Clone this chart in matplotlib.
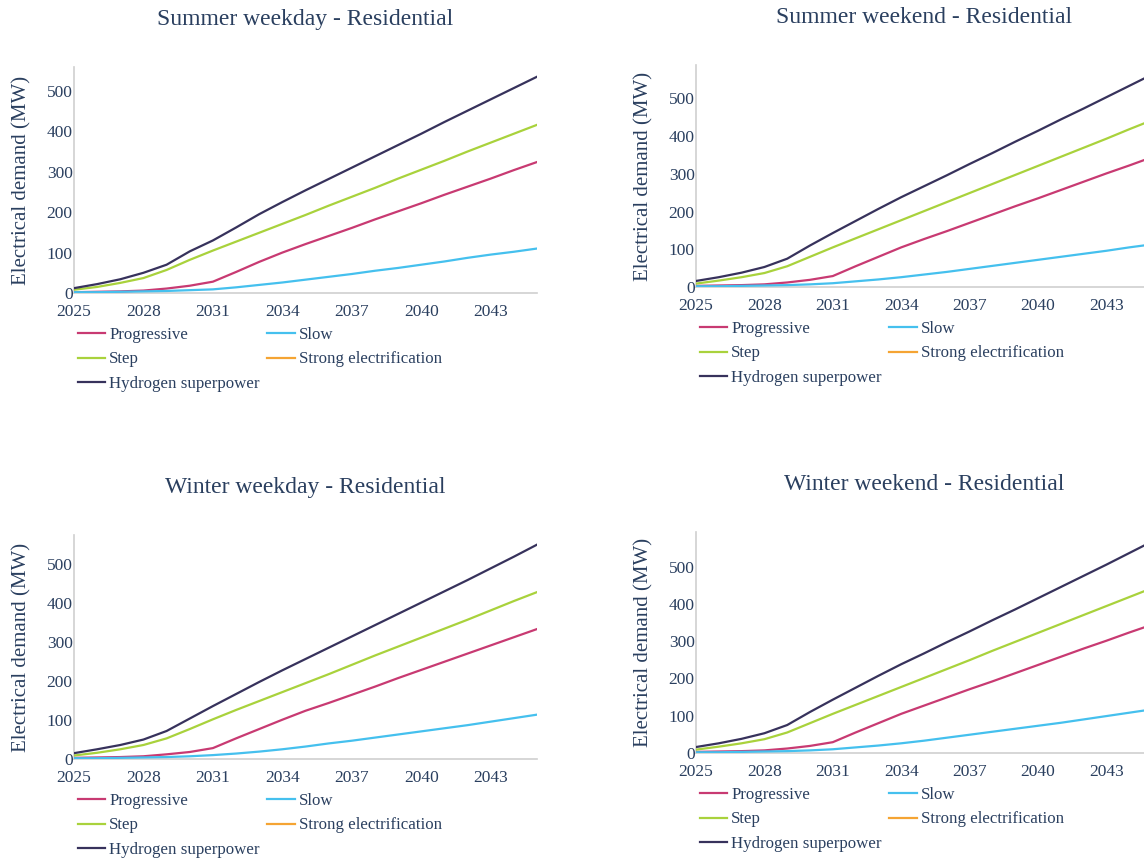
import matplotlib.pyplot as plt
import numpy as np

plt.rcParams['font.family'] = ['Liberation Serif', 'DejaVu Serif']

years = list(range(2025, 2046))
xticks = [2025, 2028, 2031, 2034, 2037, 2040, 2043]
yticks = [0, 100, 200, 300, 400, 500]

titles = ['Summer weekday - Residential', 'Summer weekend - Residential',
          'Winter weekday - Residential', 'Winter weekend - Residential']
scenarios = ['Progressive', 'Slow', 'Step', 'Strong electrification', 'Hydrogen superpower']

# summer weekday
prog_swd = [2, 3, 4, 6, 11, 18, 28, 52, 77, 100, 121, 141, 161, 182, 202, 222, 243, 263, 283, 304, 324]
slow_swd = [2, 2, 3, 4, 5, 7, 9, 14, 20, 26, 33, 40, 47, 55, 62, 70, 78, 87, 95, 102, 110]
step_swd = [8, 15, 25, 37, 57, 82, 105, 127, 149, 171, 193, 216, 238, 260, 283, 305, 327, 350, 372, 394, 416]
hyd_swd = [12, 22, 34, 50, 70, 103, 130, 162, 195, 225, 254, 282, 310, 338, 366, 394, 423, 451, 479, 507, 535]

# summer weekend
prog_swe = [3, 4, 5, 7, 12, 19, 29, 55, 80, 105, 127, 148, 170, 192, 214, 235, 257, 279, 301, 322, 344]
slow_swe = [2, 2, 3, 4, 5, 7, 10, 15, 20, 26, 33, 40, 48, 56, 64, 72, 80, 88, 96, 105, 113]
step_swe = [9, 17, 26, 37, 55, 80, 105, 129, 153, 177, 201, 225, 249, 273, 297, 321, 345, 369, 393, 418, 442]
hyd_swe = [16, 26, 38, 53, 75, 110, 143, 175, 207, 238, 267, 296, 326, 355, 385, 414, 444, 473, 503, 533, 563]

# winter weekday
prog_wwd = [3, 4, 5, 7, 12, 18, 28, 53, 77, 101, 124, 144, 165, 186, 208, 229, 250, 271, 292, 313, 334]
slow_wwd = [2, 2, 3, 4, 5, 7, 10, 14, 19, 25, 32, 40, 47, 55, 63, 71, 79, 87, 96, 105, 114]
step_wwd = [9, 16, 25, 36, 53, 77, 102, 126, 149, 172, 195, 218, 242, 266, 289, 312, 335, 358, 382, 406, 429]
hyd_wwd = [15, 25, 36, 50, 72, 104, 136, 167, 198, 228, 257, 286, 315, 344, 373, 402, 431, 460, 490, 520, 551]

# winter weekend
prog_wwe = [3, 4, 5, 7, 12, 19, 29, 55, 80, 105, 127, 149, 171, 192, 214, 236, 258, 280, 301, 323, 344]
slow_wwe = [2, 2, 3, 4, 5, 7, 10, 15, 20, 26, 33, 41, 49, 57, 65, 73, 81, 90, 99, 108, 117]
step_wwe = [9, 17, 26, 37, 55, 80, 105, 129, 153, 177, 201, 225, 249, 274, 298, 322, 346, 370, 394, 418, 442]
hyd_wwe = [16, 26, 38, 53, 75, 110, 143, 175, 207, 238, 267, 297, 326, 356, 385, 415, 445, 475, 505, 536, 567]

panels = [
    (prog_swd, slow_swd, step_swd, hyd_swd),
    (prog_swe, slow_swe, step_swe, hyd_swe),
    (prog_wwd, slow_wwd, step_wwd, hyd_wwd),
    (prog_wwe, slow_wwe, step_wwe, hyd_wwe),
]

colors = {'Progressive': '#c83a72', 'Slow': '#45c0ee', 'Step': '#a9d23c',
          'Strong electrification': '#f5a433', 'Hydrogen superpower': '#37325c'}
txt = '#2a3f5f'

W, H = 1144, 863
fig = plt.figure(figsize=(W / 100, H / 100), dpi=100)

# axes boxes in pixels: left, right, top, bottom
boxes = [(74, 537, 67, 293), (696, 1152, 65, 287),
         (74, 537, 535, 759), (696, 1152, 532, 753)]

for i, (l, r, t, b) in enumerate(boxes):
    ax = fig.add_axes([l / W, 1 - b / H, (r - l) / W, (b - t) / H])
    prog, slow, step, hyd = panels[i]
    h = {}
    h['Progressive'], = ax.plot(years, prog, color=colors['Progressive'], lw=1.6, zorder=3)
    h['Slow'], = ax.plot(years, slow, color=colors['Slow'], lw=1.6, zorder=3)
    h['Step'], = ax.plot(years, step, color=colors['Step'], lw=1.6, zorder=3)
    h['Strong electrification'], = ax.plot([], [], color=colors['Strong electrification'], lw=1.6)
    h['Hydrogen superpower'], = ax.plot(years, hyd, color=colors['Hydrogen superpower'], lw=1.6, zorder=3)

    ax.set_xlim(2025, 2045)
    ax.set_ylim(0, max(hyd) * 1.045)
    ax.set_xticks(xticks)
    ax.set_yticks(yticks)
    ax.tick_params(length=0, labelsize=12.5, colors=txt)
    ax.tick_params(axis='y', pad=1)
    ax.tick_params(axis='x', pad=8)
    for s in ['top', 'right']:
        ax.spines[s].set_visible(False)
    for s in ['left', 'bottom']:
        ax.spines[s].set_color('#cfcfcf')
        ax.spines[s].set_linewidth(1.2)
    ax.set_ylabel('Electrical demand (MW)', fontsize=15, color=txt, labelpad=11)
    ax.set_title(titles[i], fontsize=17, color=txt, pad=30)

    # two-column legend under each panel
    order = ['Progressive', 'Step', 'Hydrogen superpower', 'Slow', 'Strong electrification']
    ax.legend([h[k] for k in order], order, ncol=2, loc='upper left',
              bbox_to_anchor=(4 / (r - l), -34 / (b - t)), frameon=False,
              fontsize=12.2, labelcolor=txt, borderpad=0, borderaxespad=0,
              handlelength=1.6, handletextpad=0.25, columnspacing=0.45,
              labelspacing=0.5)

fig.savefig('out.png', dpi=100)
